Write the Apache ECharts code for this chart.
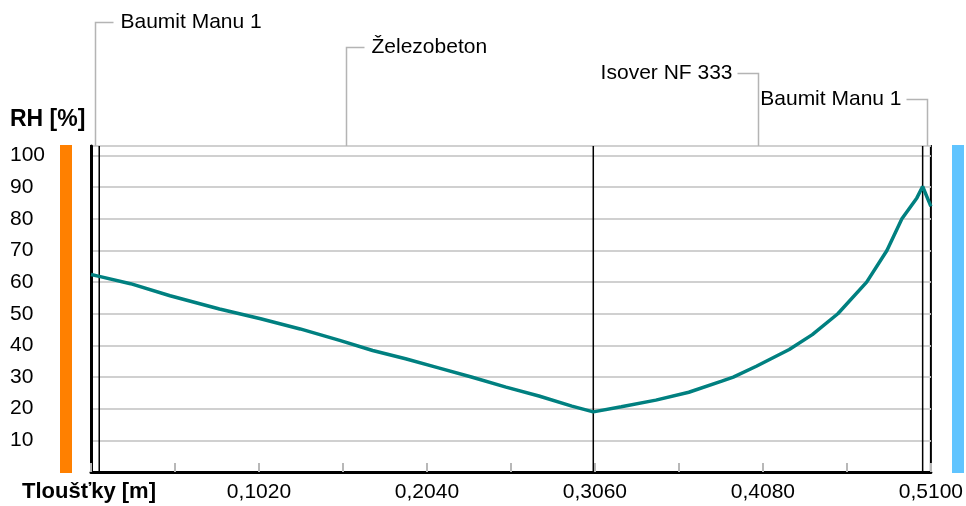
<!DOCTYPE html>
<html>
<head>
<meta charset="utf-8">
<script src="https://cdn.jsdelivr.net/npm/echarts@6/dist/echarts.min.js"></script>
<style>
  html, body { margin: 0; padding: 0; background: #ffffff; }
  #chart { width: 966px; height: 506px; }
</style>
</head>
<body>
<div id="chart"></div>
<script>
// position in construction [m]
const thickness = [0, 0.005, 0.024, 0.048, 0.078, 0.103, 0.127, 0.151, 0.171, 0.191,
  0.211, 0.231, 0.252, 0.272, 0.292, 0.305, 0.322, 0.343, 0.363, 0.383,
  0.390, 0.404, 0.424, 0.438, 0.4535, 0.471, 0.4833, 0.4924, 0.5015,
  0.505, 0.510];
// relative humidity [%]
const rh = [62.4, 61.8, 59.5, 55.7, 51.5, 48.4, 45.2, 41.6, 38.4, 35.8,
  32.9, 30.0, 26.8, 24.0, 20.8, 19.0, 20.6, 22.7, 25.2, 28.7,
  30.0, 33.4, 38.7, 43.4, 50.0, 60.0, 70.0, 80.0, 86.6,
  90.2, 83.9];

// layers of the construction
const layerNames = ["Baumit Manu 1", "Železobeton", "Isover NF 333", "Baumit Manu 1"];
const layerBounds = [0, 0.005, 0.305, 0.505, 0.51];

// axis labels
const xLabels = [0.102, 0.204, 0.306, 0.408, 0.51];
const yLabels = [10, 20, 30, 40, 50, 60, 70, 80, 90, 100];

const FONT = '"Liberation Sans", Arial, sans-serif';
const gridL = 91, gridR = 33, gridT = 146, gridB = 34;
const yMax = 103;

const chartDom = document.getElementById("chart");
const myChart = echarts.init(chartDom, null, { renderer: "canvas" });

const pts = thickness.map((t, i) => [t, rh[i]]);

// inner layer boundaries as vertical black lines
const boundarySeries = layerBounds.slice(1, -1).map((b) => ({
  type: "line",
  data: [[b, 0], [b, yMax]],
  symbol: "none",
  silent: true,
  lineStyle: { color: "#000", width: 1.5 },
  z: 2,
}));

const option = {
  animation: false,
  grid: {
    left: gridL, right: gridR, top: gridT, bottom: gridB,
    show: true, borderColor: "#000", borderWidth: 2, backgroundColor: "#fff",
  },
  xAxis: {
    type: "value",
    min: 0,
    max: 0.51,
    interval: 0.051,
    axisLine: { show: true, onZero: false, lineStyle: { color: "#000", width: 3 } },
    axisTick: { show: true, inside: true, length: 9, lineStyle: { color: "#b8b8b8", width: 2 } },
    splitLine: { show: false },
    axisLabel: {
      margin: 10,
      color: "#000",
      fontFamily: FONT,
      fontSize: 21,
      showMinLabel: true,
      showMaxLabel: true,
      formatter: function (v) {
        const hit = xLabels.some((l) => Math.abs(l - v) < 1e-6);
        return hit ? v.toFixed(4).replace(".", ",") : "";
      },
    },
  },
  yAxis: {
    type: "value",
    min: 0,
    max: yMax,
    interval: 10,
    axisLine: { show: true, lineStyle: { color: "#000", width: 3 } },
    axisTick: { show: false },
    splitLine: { show: true, lineStyle: { color: "#d0d0d0", width: 2 } },
    axisLabel: {
      align: "left",
      margin: 81,
      color: "#000",
      fontFamily: FONT,
      fontSize: 21,
      lineHeight: 21,
      padding: [9, 0, 0, 0],
      showMaxLabel: false,
      formatter: function (v) {
        return yLabels.indexOf(v) >= 0 ? String(v) : "";
      },
    },
  },
  series: [
    {
      type: "line",
      data: pts,
      symbol: "none",
      lineStyle: { color: "#008080", width: 3.5 },
      itemStyle: { color: "#008080" },
      z: 3,
    },
  ].concat(boundarySeries),
};

myChart.setOption(option);

// side bars, axis titles and layer labels with leader lines
function layerGraphics() {
  const els = [];
  els.push({
    type: "rect",
    shape: { x: 60, y: 145, width: 12, height: 328 },
    style: { fill: "#ff8000" },
  });
  els.push({
    type: "rect",
    shape: { x: 952, y: 145, width: 12, height: 328 },
    style: { fill: "#60c4ff" },
  });
  els.push({
    type: "text",
    style: { text: "RH [%]", x: 10, y: 120, font: "bold 23px " + FONT, fill: "#000",
      align: "left", verticalAlign: "middle", textAlign: "left", textVerticalAlign: "middle" },
  });
  els.push({
    type: "text",
    style: { text: "Tloušťky [m]", x: 22, y: 492, font: "bold 22px " + FONT, fill: "#000",
      align: "left", verticalAlign: "middle", textAlign: "left", textVerticalAlign: "middle" },
  });

  const levels = [22, 47, 73, 99];
  layerNames.forEach((name, i) => {
    const mid = (layerBounds[i] + layerBounds[i + 1]) / 2;
    const px = Math.round(myChart.convertToPixel({ xAxisIndex: 0 }, mid)) + 0.5;
    const y = levels[i] + 0.5;
    const toRight = i < 2;
    const hx = toRight ? px + 18 : px - 21;
    els.push({
      type: "polyline",
      shape: { points: [[px, gridT], [px, y], [hx, y]] },
      style: { stroke: "#b4b4b4", lineWidth: 1.5, fill: null },
    });
    els.push({
      type: "text",
      style: {
        text: name,
        x: toRight ? hx + 7 : hx - 5,
        y: y,
        font: "21px " + FONT,
        fill: "#000",
        align: toRight ? "left" : "right",
        verticalAlign: "middle",
        textAlign: toRight ? "left" : "right",
        textVerticalAlign: "middle",
      },
    });
  });
  return els;
}

myChart.setOption({ graphic: layerGraphics() });
</script>
</body>
</html>
